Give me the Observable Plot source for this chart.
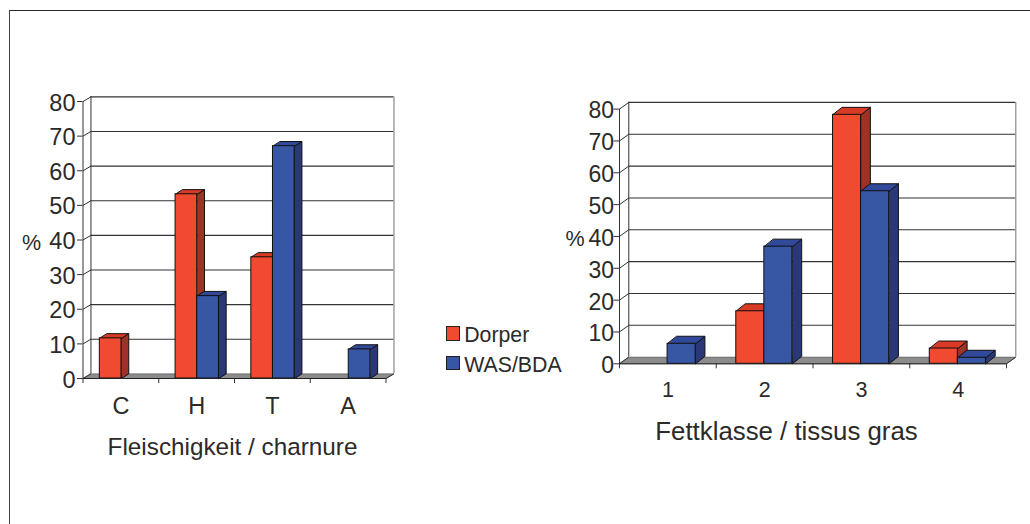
<!DOCTYPE html>
<html>
<head>
<meta charset="utf-8">
<script src="https://cdn.jsdelivr.net/npm/d3@7"></script>
<script src="https://cdn.jsdelivr.net/npm/@observablehq/plot@0.6"></script>
<style>
html,body{margin:0;padding:0;background:#fff;width:1030px;height:524px;overflow:hidden;font-family:"Liberation Sans",Arial,sans-serif;color:#2b2a29}
#frame{position:absolute;left:8.5px;top:10px;width:1021.5px;height:514px;border-left:1.6px solid #444;border-top:1.5px solid #2b2a29;box-sizing:border-box}
#left{position:absolute;left:0;top:0}
#right{position:absolute;left:560px;top:0}
#legend{position:absolute;left:445.5px;top:318.5px;font-size:21.3px}
#legend div{display:flex;align-items:center;height:29.5px}
#legend i{display:block;width:12.5px;height:12.5px;border:.8px solid #222;margin-right:4.2px}
#legend span{position:relative;top:2.3px}
svg{display:block;overflow:visible}
</style>
</head>
<body>
<div id="frame"></div>
<div id="left"></div>
<div id="right"></div>
<div id="legend"></div>
<script>
const seriesNames = ["Dorper", "WAS/BDA"];
const meatClasses = ["C", "H", "T", "A"];
const meatDorper = [11.6, 53.2, 35, null];
const meatWas = [null, 23.8, 67.1, 8.4];
const fatClasses = ["1", "2", "3", "4"];
const fatDorper = [null, 16.5, 78.2, 4.8];
const fatWas = [6.3, 36.8, 54.2, 1.9];
const yTicks = [0, 10, 20, 30, 40, 50, 60, 70, 80];

const INK = "#2b2a29";
const palette = [
  {front: "#f04a30", side: "#9c3324", top: "#d93a25"},
  {front: "#3757a5", side: "#2a3878", top: "#31499a"}
];

function bar3d(classes, a, b, o) {
  const n = classes.length, marks = [];
  const {ddx, ddy} = o;
  const closed = (list, style) => Plot.line(
    list.flatMap((p, id) => p.map(([x, y]) => ({x, y, id}))),
    {x: "x", y: "y", z: "id", curve: "linear-closed", ...style}
  );
  marks.push(closed([[[0, 0], [n, 0], [n + ddx, ddy], [ddx, ddy]]], {fill: "#8c8c8c", stroke: "#555", strokeWidth: 0.6}));
  marks.push(Plot.ruleY(yTicks.filter(v => v > 0), {
    y: v => v + ddy, x1: ddx, x2: n + ddx, stroke: "#333", strokeWidth: 1.1
  }));
  marks.push(Plot.ruleX([n + ddx], {y1: ddy, y2: 80 + ddy, stroke: "#8a8a8a", strokeWidth: 1.2}));
  marks.push(Plot.ruleX([ddx], {y1: ddy, y2: 80 + ddy, stroke: "#333", strokeWidth: 1}));
  marks.push(Plot.ruleX([0], {y1: 0, y2: 80, stroke: "#333", strokeWidth: 1}));
  marks.push(Plot.link(yTicks, {x1: 0, x2: ddx, y1: v => v, y2: v => v + ddy, stroke: "#333", strokeWidth: 1}));
  marks.push(Plot.link([n], {x1: n, x2: n + ddx, y1: 0, y2: ddy, stroke: "#333", strokeWidth: 1}));
  [a, b].forEach((vals, s) => {
    const rows = vals.map((v, i) => ({v, x1: i + o.pad + s * o.bw, x2: i + o.pad + (s + 1) * o.bw})).filter(d => d.v != null);
    const col = palette[s];
    marks.push(closed(rows.map(d => [[d.x2, 0], [d.x2 + o.bdx, o.bdy], [d.x2 + o.bdx, d.v + o.bdy], [d.x2, d.v]]),
      {fill: col.side, stroke: "#111", strokeWidth: 1}));
    marks.push(closed(rows.map(d => [[d.x1, d.v], [d.x2, d.v], [d.x2 + o.bdx, d.v + o.bdy], [d.x1 + o.bdx, d.v + o.bdy]]),
      {fill: col.top, stroke: "#111", strokeWidth: 1}));
    marks.push(Plot.rect(rows, {x1: "x1", x2: "x2", y1: 0, y2: "v", fill: col.front, stroke: "#111", strokeWidth: 1}));
  });
  marks.push(Plot.axisY({ticks: yTicks, tickSize: 5.5, tickFormat: () => "", label: null, stroke: "#333"}));
  marks.push(Plot.axisY({ticks: yTicks, tickSize: 0, tickPadding: o.tickPad, dy: o.tickDy, fontSize: o.tickFont, label: null, fill: INK}));
  marks.push(Plot.axisX({ticks: d3.range(0, n + 1), tickSize: 5, tickFormat: () => "", label: null, stroke: "#333"}));
  marks.push(Plot.ruleY([0], {x1: 0, x2: n, stroke: "#222", strokeWidth: 1}));
  marks.push(Plot.text(classes, {x: (d, i) => i + 0.5, y: 0, dy: o.catDy, text: d => d, fontSize: o.catFont, fill: INK}));
  marks.push(Plot.text([o.label], {frameAnchor: "top-left", dx: o.labelX, dy: o.labelY, text: d => d, textAnchor: "middle", fontSize: o.labelFont, fill: INK}));
  marks.push(Plot.text(["%"], {frameAnchor: "top-left", dx: o.pctX, dy: o.pctY, text: d => d, textAnchor: "middle", fontSize: o.pctFont, fill: INK}));
  return Plot.plot({
    width: o.width, height: o.height,
    marginLeft: o.ml, marginRight: o.mr, marginTop: o.mt, marginBottom: o.mb,
    x: {type: "linear", domain: [0, n], axis: null},
    y: {type: "linear", domain: [0, 80], axis: null},
    style: {fontFamily: '"Liberation Sans",Arial,sans-serif', background: "transparent", overflow: "visible"},
    marks
  });
}

document.getElementById("left").append(bar3d(meatClasses, meatDorper, meatWas, {
  width: 440, height: 480, ml: 82.5, mr: 54.5, mt: 101, mb: 102,
  ddx: 0.105, ddy: 1.35, pad: 0.222, bw: 0.286, bdx: 0.096, bdy: 1.35,
  tickFont: 23.5, tickPad: 7.5, tickDy: 1.5, catFont: 23.5, catDy: 27.5,
  label: "Fleischigkeit / charnure", labelX: 149.5, labelY: 336, labelFont: 24.3,
  pctX: -51.5, pctY: 133, pctFont: 21.5
}));
document.getElementById("right").append(bar3d(fatClasses, fatDorper, fatWas, {
  width: 470, height: 480, ml: 59, mr: 24, mt: 108.6, mb: 116.7,
  ddx: 0.096, ddy: 2.1, pad: 0.207, bw: 0.29, bdx: 0.096, bdy: 2.35,
  tickFont: 23, tickPad: 5.5, tickDy: 2, catFont: 21.5, catDy: 26,
  label: "Fettklasse / tissus gras", labelX: 167, labelY: 313, labelFont: 25.8,
  pctX: -44.5, pctY: 121.5, pctFont: 21.5
}));

const legend = d3.select("#legend");
seriesNames.forEach((name, i) => {
  const row = legend.append("div");
  row.append("i").style("background", palette[i].front);
  row.append("span").text(name);
});
</script>
</body>
</html>
